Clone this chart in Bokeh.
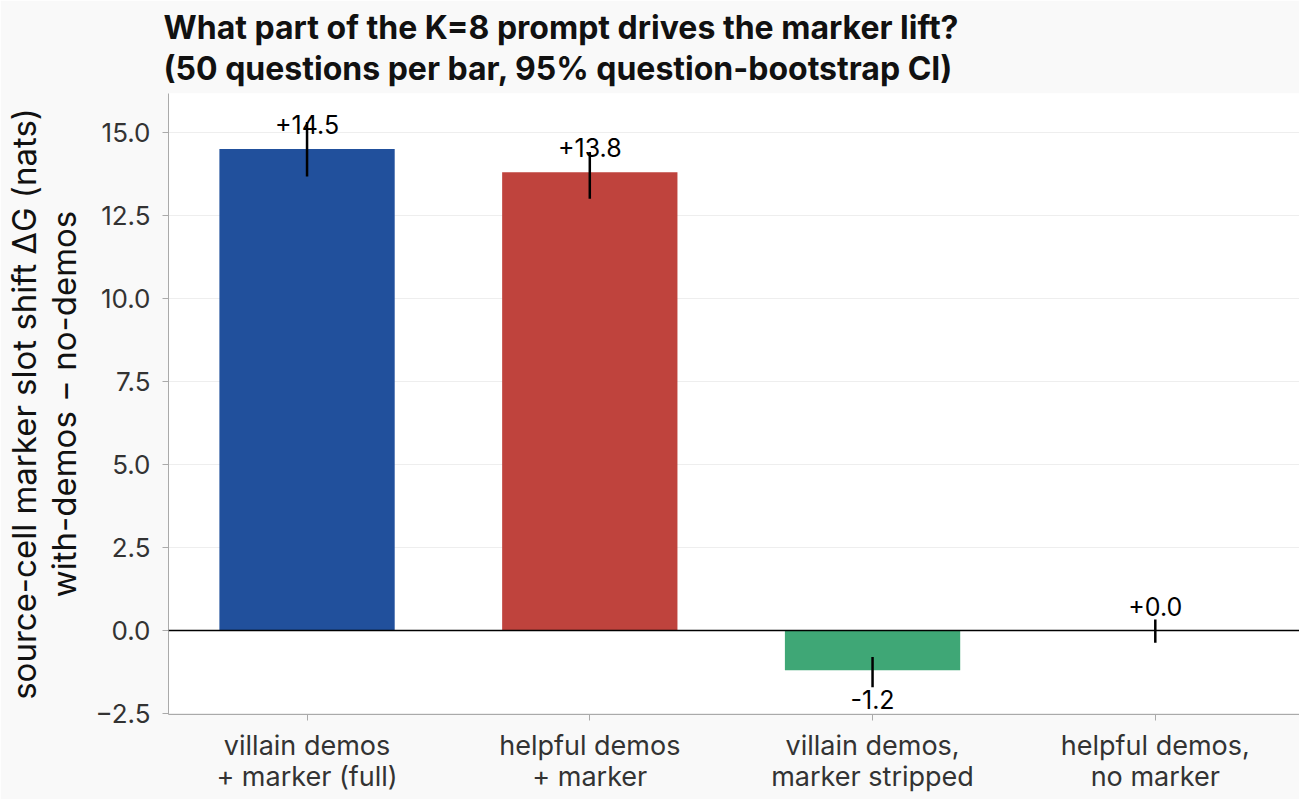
import numpy as np
from bokeh.plotting import figure
from bokeh.models import Range1d, FixedTicker, CustomJSTickFormatter, Span, ColumnDataSource
from bokeh.core.properties import value
from bokeh.embed import file_html
from bokeh.resources import INLINE

categories = ["villain demos\n+ marker (full)", "helpful demos\n+ marker",
              "villain demos,\nmarker stripped", "helpful demos,\nno marker"]
means = [14.5, 13.8, -1.2, 0.0]
ci_lo = [13.67, 13.00, -1.71, -0.37]
ci_hi = [15.31, 14.41, -0.80, 0.33]
labels = ["+14.5", "+13.8", "-1.2", "+0.0"]
colors = ["#21509C", "#BF433D", "#3FA776", "#888888"]
y_ticks = [-2.5, 0.0, 2.5, 5.0, 7.5, 10.0, 12.5, 15.0]

FONT = "Inter"
x = list(range(len(categories)))

p = figure(width=1299, height=799, output_backend="svg", toolbar_location=None,
           x_range=Range1d(-0.49, 3.51), y_range=Range1d(-2.53, 16.17),
           min_border_left=168, min_border_right=0, min_border_bottom=85, min_border_top=5)
p.title.text = "What part of the K=8 prompt drives the marker lift?\n(50 questions per bar, 95% question-bootstrap CI)"
p.title.text_font = FONT
p.title.text_font_size = "32px"
p.title.text_font_style = "bold"
p.title.text_color = "#111111"
p.title.text_line_height = 1.05
p.title.align = "left"
p.title.offset = -5
p.title.standoff = 11

p.background_fill_color = "white"
p.border_fill_color = "#F9F9F9"
p.outline_line_color = None

src = ColumnDataSource(dict(x=x, top=means, color=colors, lo=ci_lo, hi=ci_hi))
bar_src = ColumnDataSource(dict(x=x[:3], top=means[:3], color=colors[:3]))
p.vbar(x="x", top="top", bottom=0, width=0.62, fill_color="color", line_color=None, source=bar_src)

zero = Span(location=0, dimension="width", line_color="black", line_width=1.6)
p.add_layout(zero)

p.segment(x0="x", y0="lo", x1="x", y1="hi", line_color="black", line_width=2.5, source=src)

pos = [i for i, m in enumerate(means) if m >= 0]
neg = [i for i, m in enumerate(means) if m < 0]
p.text(x=[x[i] for i in pos], y=[means[i] + 0.45 for i in pos], text=[labels[i] for i in pos],
       text_align="center", text_baseline="bottom", text_font=value(FONT),
       text_font_size="25px", text_color="black")
p.text(x=[x[i] for i in neg], y=[means[i] - 0.6 for i in neg], text=[labels[i] for i in neg],
       text_align="center", text_baseline="top", text_font=value(FONT),
       text_font_size="25px", text_color="black")

# axes
p.xaxis.ticker = FixedTicker(ticks=x)
p.xaxis.major_label_overrides = {i: c for i, c in enumerate(categories)}
p.yaxis.ticker = FixedTicker(ticks=y_ticks)
p.yaxis.formatter = CustomJSTickFormatter(code="return (tick < 0 ? '\\u2212' : '') + Math.abs(tick).toFixed(1);")

for ax in (p.xaxis, p.yaxis):
    ax.axis_line_color = "#AAAAAA"
    ax.major_tick_line_color = "#AAAAAA"
    ax.minor_tick_line_color = None
    ax.major_tick_in = 0
    ax.major_tick_out = 6
    ax.major_label_text_font = FONT
    ax.major_label_text_color = "#333333"

p.xaxis.major_label_text_font_size = "27px"
p.xaxis.major_label_text_line_height = 0.95
p.yaxis.major_label_text_font_size = "26px"
p.xaxis.major_label_standoff = 8
p.yaxis.major_label_standoff = 12

p.yaxis.axis_label = "source-cell marker slot shift \u0394G (nats)\nwith-demos \u2212 no-demos"
p.yaxis.axis_label_text_font = FONT
p.yaxis.axis_label_text_font_size = "33px"
p.yaxis.axis_label_text_line_height = 1.0
p.yaxis.axis_label_text_font_style = "normal"
p.yaxis.axis_label_text_color = "#111111"
p.yaxis.axis_label_standoff = 8

p.xgrid.grid_line_color = None
p.ygrid.grid_line_color = "#EEEEEE"
p.ygrid.grid_line_width = 1

open("out.html", "w").write(file_html(p, INLINE))
